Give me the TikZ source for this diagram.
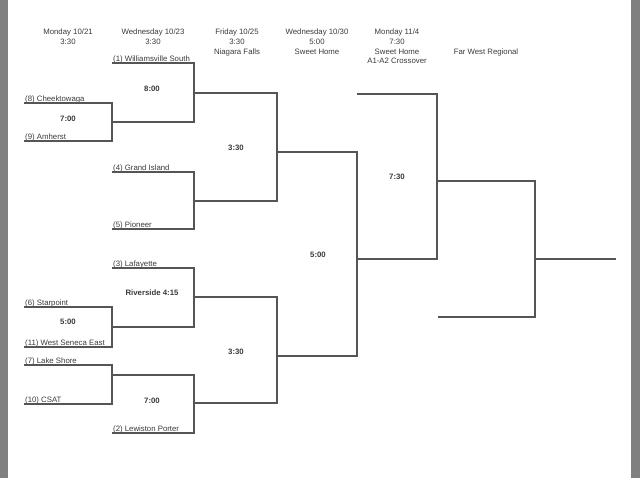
\documentclass[tikz,border=0pt]{standalone}
\usepackage{fontspec}
\setmainfont{Liberation Sans}
\usetikzlibrary{positioning}
\definecolor{inkgray}{HTML}{3A3A3A}
\definecolor{linegray}{HTML}{555555}
\definecolor{framegray}{HTML}{808080}

\begin{document}
\begin{tikzpicture}[
    x=1pt, y=-1pt,
    hdr/.style={anchor=north, inner sep=0pt, align=center, text=inkgray,
                font=\fontsize{7.8}{9.7}\selectfont},
    team/.style={anchor=base west, inner sep=0pt, text=inkgray,
                 font=\fontsize{7.8}{9}\selectfont},
    tm/.style={inner sep=0pt, text=inkgray,
               font=\fontsize{7.8}{9}\selectfont\bfseries},
    slot/.style={draw=linegray, line width=1.25pt},
  ]
    \useasboundingbox (0,0) rectangle (640,478);
    \fill[framegray] (0,0) rectangle (8,478);
    \fill[framegray] (631,0) rectangle (640,478);

    % round headers
    \node[hdr] (h1) at (68,28.8)  {Monday 10/21\\3:30};
    \node[hdr] (h2) at (153,28.8) {Wednesday 10/23\\3:30};
    \node[hdr] (h3) at (237,28.8) {Friday 10/25\\3:30\\Niagara Falls};
    \node[hdr] (h4) at (317,28.8) {Wednesday 10/30\\5:00\\Sweet Home};
    \node[hdr] (h5) at (397,28.8) {Monday 11/4\\7:30\\Sweet Home\\A1-A2 Crossover};
    \node[hdr] (h6) at (486,48.2) {Far West Regional};

    % team slots
    \coordinate (s1)  at (112,63);
    \coordinate (s8)  at (24,103);
    \coordinate (s9)  at (24,141);
    \coordinate (s4)  at (112,172);
    \coordinate (s5)  at (112,229);
    \coordinate (s3)  at (112,268);
    \coordinate (s6)  at (24,307);
    \coordinate (s11) at (24,347);
    \coordinate (s7)  at (24,365);
    \coordinate (s10) at (24,404);
    \coordinate (s2)  at (112,433);
    \coordinate (bye1) at (357,94);
    \coordinate (bye2) at (438,317);

    \node[team] (n1)  at ([shift={(1,-1.6)}]s1)  {(1) Williamsville South};
    \node[team] (n8)  at ([shift={(1,-1.6)}]s8)  {(8) Cheektowaga};
    \node[team] (n9)  at ([shift={(1,-1.6)}]s9)  {(9) Amherst};
    \node[team] (n4)  at ([shift={(1,-1.6)}]s4)  {(4) Grand Island};
    \node[team] (n5)  at ([shift={(1,-1.6)}]s5)  {(5) Pioneer};
    \node[team] (n3)  at ([shift={(1,-1.6)}]s3)  {(3) Lafayette};
    \node[team] (n6)  at ([shift={(1,-1.6)}]s6)  {(6) Starpoint};
    \node[team] (n11) at ([shift={(1,-1.6)}]s11) {(11) West Seneca East};
    \node[team] (n7)  at ([shift={(1,-1.6)}]s7)  {(7) Lake Shore};
    \node[team] (n10) at ([shift={(1,-1.6)}]s10) {(10) CSAT};
    \node[team] (n2)  at ([shift={(1,-1.6)}]s2)  {(2) Lewiston Porter};

    % joints (winner lines start here)
    \coordinate (jA) at (112,122);
    \coordinate (jB) at (194,93);
    \coordinate (jC) at (194,201);
    \coordinate (jD) at (112,327);
    \coordinate (jE) at (194,297);
    \coordinate (jF) at (112,375);
    \coordinate (jG) at (194,403);
    \coordinate (jH) at (277,152);
    \coordinate (jI) at (277,356);
    \coordinate (jJ) at (357,259);
    \coordinate (jK) at (437,181);
    \coordinate (jL) at (535,259);
    \coordinate (fin) at (616,259);

    \draw[slot] (s8) -- (s8 -| jA) -- (s9 -| jA) -- (s9);
    \draw[slot] (s1) -- (s1 -| jB) -- (jA -| jB) -- (jA);
    \draw[slot] (s4) -- (s4 -| jC) -- (s5 -| jC) -- (s5);
    \draw[slot] (s6) -- (s6 -| jD) -- (s11 -| jD) -- (s11);
    \draw[slot] (s3) -- (s3 -| jE) -- (jD -| jE) -- (jD);
    \draw[slot] (s7) -- (s7 -| jF) -- (s10 -| jF) -- (s10);
    \draw[slot] (jF) -- (jF -| jG) -- (s2 -| jG) -- (s2);
    \draw[slot] (jB) -- (jB -| jH) -- (jC -| jH) -- (jC);
    \draw[slot] (jE) -- (jE -| jI) -- (jG -| jI) -- (jG);
    \draw[slot] (jH) -- (jH -| jJ) -- (jI -| jJ) -- (jI);
    \draw[slot] (bye1) -- (bye1 -| jK) -- (jJ -| jK) -- (jJ);
    \draw[slot] (jK) -- (jK -| jL) -- (bye2 -| jL) -- (bye2);
    \draw[slot] (jL) -- (fin);

    % game times
    \node[tm] (t1) at (68,119)  {7:00};
    \node[tm] (t2) at (152,89)  {8:00};
    \node[tm] (t3) at (236,148) {3:30};
    \node[tm] (t4) at (152,293) {Riverside 4:15};
    \node[tm] (t5) at (68,322)  {5:00};
    \node[tm] (t6) at (152,401) {7:00};
    \node[tm] (t7) at (236,352) {3:30};
    \node[tm] (t8) at (318,255) {5:00};
    \node[tm] (t9) at (397,177) {7:30};
  \end{tikzpicture}
\end{document}
